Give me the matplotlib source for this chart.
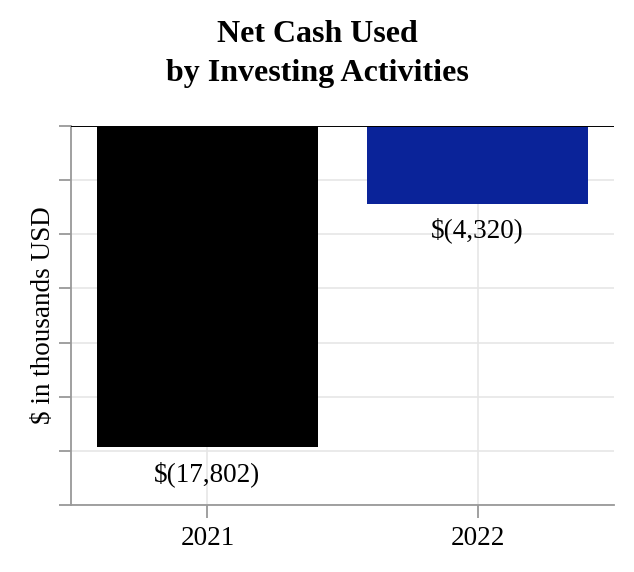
import matplotlib
matplotlib.use("Agg")
import matplotlib.pyplot as plt
import numpy as np

years = ["2021", "2022"]
values = [-17802, -4320]
labels = ["$(17,802)", "$(4,320)"]
colors = ["#000000", "#0a2399"]
yticks = [0, -3000, -6000, -9000, -12000, -15000, -18000, -21000]

plt.rcParams["font.family"] = ["Liberation Serif", "DejaVu Serif"]

fig = plt.figure(figsize=(6.34, 5.72), dpi=100)
ax = fig.add_axes([71/634, 1-505/572, (614-71)/634, (505-126)/572])

x = np.arange(len(years))
ax.bar(x, values, width=0.82, color=colors, zorder=3)
ax.axhline(0, color="black", lw=1.4, zorder=4)

for xi, v, lab in zip(x, values, labels):
    ax.text(xi, v - 750, lab, ha="center", va="top", fontsize=19.5, zorder=5)

ax.set_xlim(-0.505, 1.505)
ax.set_ylim(-21000, 0)
ax.set_xticks(x)
ax.set_xticklabels(years, fontsize=19.5)
ax.set_yticks(yticks)
ax.set_yticklabels([])
ax.grid(True, color="#e6e6e6", lw=1.2, zorder=0)
ax.set_axisbelow(True)
for s in ["top", "right"]:
    ax.spines[s].set_visible(False)
for s in ["left", "bottom"]:
    ax.spines[s].set_color("#999999")
    ax.spines[s].set_linewidth(1.3)
ax.tick_params(axis="both", colors="#999999", length=9, width=1.3, labelcolor="black")
ax.tick_params(axis="x", pad=6)
ax.set_ylabel("$ in thousands USD", fontsize=19.5, labelpad=-2)

fig.suptitle("Net Cash Used\nby Investing Activities", fontsize=23, fontweight="bold", y=0.965, linespacing=1.45)

fig.savefig("out.png", dpi=100)
